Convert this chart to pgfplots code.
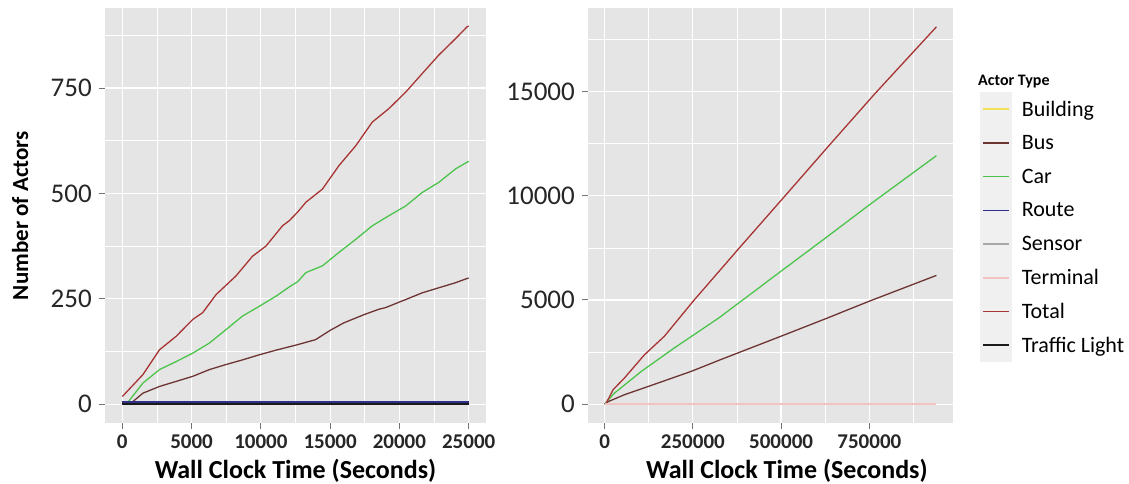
\documentclass[border=0pt]{standalone}
\usepackage{fontspec}
\setmainfont{Carlito}
\usepackage{pgfplots}
\pgfplotsset{compat=1.18}
\definecolor{panel}{HTML}{E5E5E5}
\definecolor{keybg}{HTML}{F0F0F0}
\definecolor{cBuilding}{HTML}{F2E25A}
\definecolor{cBus}{HTML}{6E3434}
\definecolor{cCar}{HTML}{4CC44C}
\definecolor{cRoute}{HTML}{30308A}
\definecolor{cSensor}{HTML}{A8A8A8}
\definecolor{cTerminal}{HTML}{F0C4C4}
\definecolor{cTotal}{HTML}{A83434}
\definecolor{cTL}{HTML}{1A1A1A}
\definecolor{ticktext}{HTML}{262626}
\pgfplotsset{ggstyle/.style={
  scale only axis, height=415pt,
  scaled ticks=false,
  axis background/.style={fill=panel},
  axis line style={draw=none},
  grid=both,
  major grid style={white, line width=1.2pt},
  minor grid style={white, line width=0.6pt},
  tick align=outside,
  major tick length=6pt, minor tick length=0pt,
  tick style={color=black!55, line width=0.9pt},
  xtick pos=bottom, ytick pos=left,
  yticklabel style={font=\fontsize{27}{30}\selectfont, text=ticktext, inner sep=0pt, anchor=east, xshift=-7pt},
  xticklabel style={font=\bfseries\fontsize{21}{24}\selectfont, text=ticktext, inner sep=0pt, anchor=north, yshift=-6pt},
  every axis x label/.style={at={(rel axis cs:0.5,-0.1145)}, anchor=center, font=\bfseries\fontsize{26}{29}\selectfont},
  every axis plot/.append style={line width=1.3pt},
  no marks,
  legend image code/.code={\fill[keybg] (0pt,-16.05pt) rectangle (30pt,16.05pt); \draw[#1] (2pt,0pt) -- (28pt,0pt);},
}}
\begin{document}
\begin{tikzpicture}
\path[use as bounding box] (0,0) rectangle (1129pt,484pt);
% ---------------- left panel ----------------
\begin{axis}[ggstyle, at={(105pt,61pt)}, anchor=south west, width=381pt,
  xmin=-1250, xmax=26250, ymin=-44.75, ymax=939.75,
  xtick={0,5000,10000,15000,20000,25000}, xticklabels={0,5000,10000,15000,20000,25000},
  minor xtick={2500,7500,12500,17500,22500},
  ytick={0,250,500,750}, yticklabels={0,250,500,750},
  minor ytick={125,375,625,875},
  xlabel={Wall Clock Time (Seconds)}, ylabel={Number of Actors},
  every axis y label/.style={at={(rel axis cs:-0.223,0.5)}, rotate=90, anchor=center, font=\bfseries\fontsize{23}{26}\selectfont}]
\addplot[cBuilding] coordinates {(0,0) (25000,0)};
\addplot[cBus] coordinates {(500,0) (765,6) (1485,26) (2685,42) (3890,54) (5085,66) (6290,82) (7490,94) (8680,105) (9880,117) (11090,128) (12640,141) (13950,153) (15000,175) (16000,193) (17500,213) (18510,225) (19000,229) (20450,248) (21640,264) (22840,276) (24050,288) (24880,298) (25000,299)};
\addplot[cCar] coordinates {(300,0) (1485,50) (2685,82) (3890,101) (5085,121) (6290,145) (7490,177) (8680,209) (9880,232) (11090,256) (12045,278) (12640,290) (13250,312) (14440,328) (15640,360) (16850,391) (18040,423) (19240,447) (20450,470) (21640,502) (22840,526) (24050,558) (24880,574) (25000,576)};
\addplot[cRoute] coordinates {(0,5) (25000,5)};
\addplot[cSensor] coordinates {(0,0) (25000,0)};
\addplot[cTerminal] coordinates {(0,0) (25000,0)};
\addplot[cTotal] coordinates {(0,18) (1485,70) (2685,129) (3890,161) (5085,201) (5800,217) (6770,260) (8200,304) (9400,351) (10370,375) (11560,423) (12045,435) (12640,455) (13250,479) (14440,510) (15640,566) (16850,613) (18040,669) (19240,701) (20450,740) (21640,784) (22840,828) (24050,867) (24880,895) (25000,897)};
\addplot[cTL] coordinates {(0,0) (25000,0)};
\end{axis}
% ---------------- right panel ----------------
\begin{axis}[ggstyle, at={(588pt,61pt)}, anchor=south west, width=365pt,
  xmin=-47000, xmax=987000, ymin=-905, ymax=19005,
  xtick={0,250000,500000,750000}, xticklabels={0,250000,500000,750000},
  minor xtick={125000,375000,625000,875000},
  ytick={0,5000,10000,15000}, yticklabels={0,5000,10000,15000},
  minor ytick={2500,7500,12500,17500},
  every axis x label/.style={at={(rel axis cs:0.545,-0.1145)}, anchor=center, font=\bfseries\fontsize{26}{29}\selectfont},
  xlabel={Wall Clock Time (Seconds)},
  legend style={at={(1.074,0.797)}, anchor=north west, draw=none, fill=none, inner sep=0pt, row sep=0pt, column sep=10pt,
    font=\fontsize{22}{25}\selectfont, nodes={inner sep=0pt}},
  legend cell align=left]
\addlegendimage{cBuilding, line width=1.6pt}\addlegendentry{Building}
\addlegendimage{cBus, line width=1.6pt}\addlegendentry{Bus}
\addlegendimage{cCar, line width=1.6pt}\addlegendentry{Car}
\addlegendimage{cRoute, line width=1.6pt}\addlegendentry{Route}
\addlegendimage{cSensor, line width=1.6pt}\addlegendentry{Sensor}
\addlegendimage{cTerminal, line width=1.6pt}\addlegendentry{Terminal}
\addlegendimage{cTotal, line width=1.6pt}\addlegendentry{Total}
\addlegendimage{cTL, line width=1.6pt}\addlegendentry{Traffic Light}
\addplot[cBus, forget plot] coordinates {(0,0) (10000,120) (56000,450) (151000,1010) (245000,1570) (325000,2110) (500000,3260) (625000,4090) (750000,4940) (940000,6175)};
\addplot[cCar, forget plot] coordinates {(0,0) (10000,200) (28000,530) (104000,1570) (197000,2690) (324000,4140) (500000,6380) (625000,7960) (750000,9560) (940000,11920)};
\addplot[cTotal, forget plot] coordinates {(0,0) (5000,60) (24000,690) (56000,1250) (113000,2370) (169000,3250) (254000,5000) (381000,7480) (509000,9950) (637000,12430) (766000,14900) (940000,18100)};
\addplot[cTerminal, forget plot] coordinates {(0,0) (940000,0)};
\end{axis}
\node[anchor=west, font=\bfseries\fontsize{16}{18}\selectfont, inner sep=0pt] at (978pt,402pt) {Actor Type};
\end{tikzpicture}
\end{document}
